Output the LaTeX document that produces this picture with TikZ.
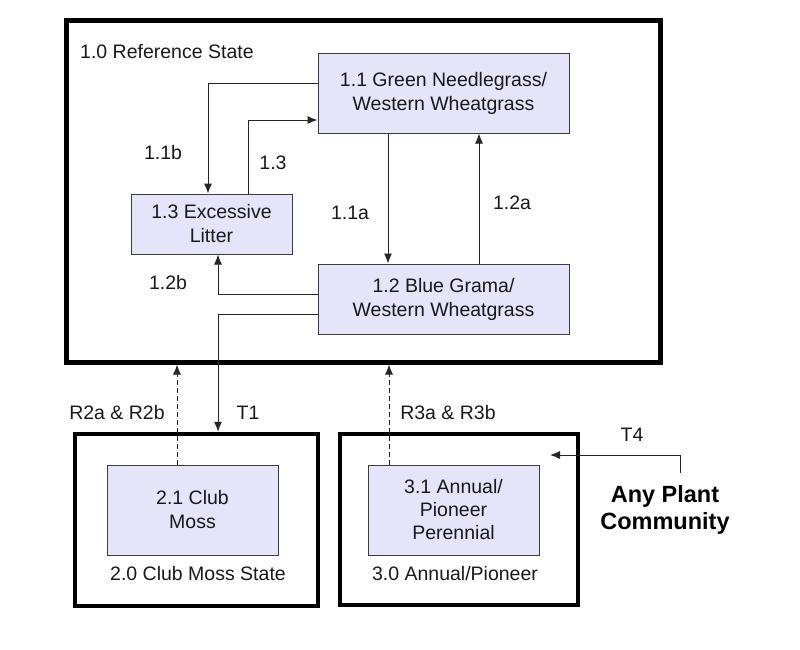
\documentclass[tikz,border=0pt]{standalone}
\usepackage{fontspec}
\setmainfont{Liberation Sans}
\usetikzlibrary{arrows.meta,calc}
\definecolor{boxfill}{RGB}{228,228,250}
\definecolor{boxline}{RGB}{60,60,60}
\begin{document}
\begin{tikzpicture}[x=1pt,y=-1pt,
  every node/.style={font=\fontsize{19.5}{24}\selectfont, text=black!90},
  comm/.style={draw=boxline, line width=1pt, fill=boxfill, align=center, inner sep=0pt},
  statebox/.style={draw=black, line width=5pt, inner sep=0pt},
  lbl/.style={inner sep=0pt},
  arr/.style={draw=black!85, line width=1pt, -{Latex[length=10pt,width=8pt]}},
  darr/.style={arr, dashed, dash pattern=on 5pt off 3pt},
]
\useasboundingbox (0,0) rectangle (800,649);
% state boxes
\node[statebox, minimum width=594pt, minimum height=342pt] (ref) at (363,191) {};
\node[statebox, line width=4.5pt, minimum width=243pt, minimum height=172pt] (s2) at (196.5,520) {};
\node[statebox, line width=4.5pt, minimum width=238pt, minimum height=171pt] (s3) at (459,519.5) {};
% community boxes
\node[comm, minimum width=251pt, minimum height=80pt] (n11) at (443.5,93) {1.1 Green Needlegrass/\\Western Wheatgrass};
\node[comm, minimum width=161pt, minimum height=60pt] (n13) at (211.5,224) {1.3 Excessive\\Litter};
\node[comm, minimum width=251pt, minimum height=70pt] (n12) at (443.5,299) {1.2 Blue Grama/\\Western Wheatgrass};
\node[comm, minimum width=171pt, minimum height=90pt] (n21) at (192.5,510) {2.1 Club\\Moss};
\node[comm, minimum width=171pt, minimum height=90pt, font=\fontsize{19.5}{23}\selectfont] (n31) at (453.5,510) {3.1 Annual/\\Pioneer\\Perennial};
% labels
\node[lbl, anchor=west] (l10) at (80,52) {1.0 Reference State};
\node[lbl] (l11b) at (163,153) {1.1b};
\node[lbl] (l13) at (273,163) {1.3};
\node[lbl] (l11a) at (350,213) {1.1a};
\node[lbl] (l12a) at (512,203) {1.2a};
\node[lbl] (l12b) at (168,283) {1.2b};
\node[lbl] (lr2) at (117,413) {R2a \& R2b};
\node[lbl] (lt1) at (248,413) {T1};
\node[lbl] (lr3) at (448,413) {R3a \& R3b};
\node[lbl] (lt4) at (632,435) {T4};
\node[lbl] (l20) at (198,574) {2.0 Club Moss State};
\node[lbl] (l30) at (455,574) {3.0 Annual/Pioneer};
\node[lbl, align=center, font=\fontsize{23.5}{27}\selectfont\bfseries, text=black] (apc) at (665,510) {Any Plant\\Community};
% connectors
\draw[arr] ([yshift=10pt]n11.west) -| ([xshift=-3.5pt]n13.north);
\draw[arr] ([xshift=36.5pt]n13.north) |- ([yshift=-27pt]n11.west);
\draw[arr] ([xshift=-55.5pt]n11.south) -- ([xshift=-55.5pt]n12.north);
\draw[arr] ([xshift=35.5pt]n12.north) -- ([xshift=35.5pt]n11.south);
\draw[arr] ([yshift=5pt]n12.west) -| ([xshift=6.5pt]n13.south);
\draw[arr] ([yshift=-15pt]n12.west) -| ([xshift=21.5pt]s2.north);
\draw[darr] ([xshift=-15.5pt]n21.north) coordinate (r2s) -- (r2s |- ref.south);
\draw[darr] ([xshift=-64.5pt]n31.north) coordinate (r3s) -- (r3s |- ref.south);
\coordinate (t4s) at (680,473);
\coordinate (t4e) at (550,455);
\draw[arr] (t4s) |- (t4e);
\end{tikzpicture}
\end{document}
